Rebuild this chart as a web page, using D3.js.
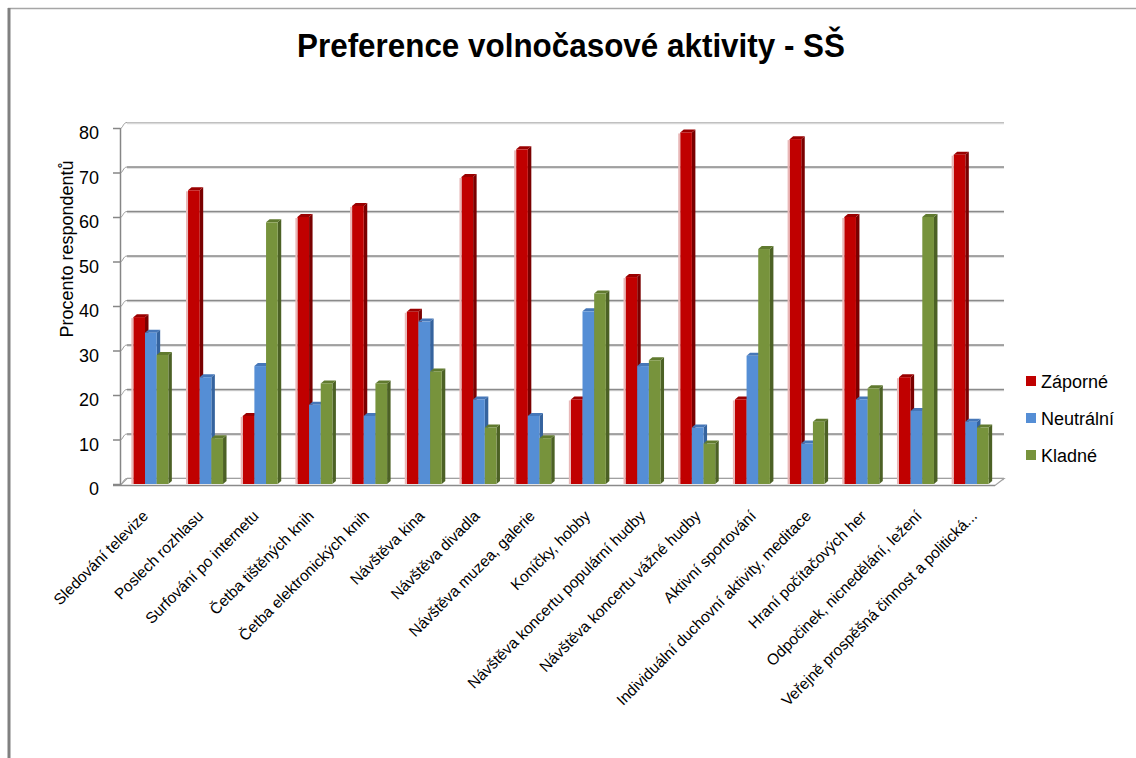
<!DOCTYPE html>
<html>
<head>
<meta charset="utf-8">
<script src="https://cdn.jsdelivr.net/npm/d3@7"></script>
<style>
  html, body { margin: 0; padding: 0; background: #fff; }
  svg { display: block; font-family: "Liberation Sans", Arial, sans-serif; }
</style>
</head>
<body>
<svg id="chart" width="1136" height="758"></svg>
<script>
'use strict';

const categories = [
  "Sledování televize",
  "Poslech rozhlasu",
  "Surfování po internetu",
  "Četba tištěných knih",
  "Četba elektronických knih",
  "Návštěva kina",
  "Návštěva divadla",
  "Návštěva muzea, galerie",
  "Koníčky, hobby",
  "Návštěva koncertu populární hudby",
  "Návštěva koncertu vážné hudby",
  "Aktivní sportování",
  "Individuální duchovní aktivity, meditace",
  "Hraní počítačových her",
  "Odpočinek, nicnedělání, ležení",
  "Veřejně prospěšná činnost a politická..."
];

const seriesNames = ["Záporné", "Neutrální", "Kladné"];

const zaporne   = [37.5, 66, 15.3, 60, 62.5, 38.7, 69, 75.2, 19, 46.5, 79, 19, 77.5, 60, 24, 74];
const neutralni = [34, 24, 26.5, 17.8, 15.3, 36.5, 19, 15.3, 38.8, 26.5, 12.7, 28.8, 9.1, 19, 16.4, 14];
const kladne    = [29, 10.3, 58.8, 22.6, 22.6, 25.3, 12.7, 10.3, 42.8, 27.8, 9.1, 52.8, 14, 21.5, 60, 12.7];

const yTicks = [0, 10, 20, 30, 40, 50, 60, 70, 80];

const colors = {
  "Záporné":   { front: "#c00000", side: "#7a0000", top: "#9a0000" },
  "Neutrální": { front: "#558ed5", side: "#35639e", top: "#4677b8" },
  "Kladné":    { front: "#77933c", side: "#4c6125", top: "#607a2f" }
};

const series = [zaporne, neutralni, kladne];

const svg = d3.select("#chart");

// frame
svg.append("line")
  .attr("x1", 8).attr("y1", 8.5).attr("x2", 1136).attr("y2", 8.5)
  .attr("stroke", "#a6a6a6").attr("stroke-width", 1.5);
svg.append("line")
  .attr("x1", 9).attr("y1", 8).attr("x2", 9).attr("y2", 758)
  .attr("stroke", "#808080").attr("stroke-width", 3);

// title
svg.append("text")
  .attr("x", 571).attr("y", 57)
  .attr("text-anchor", "middle")
  .attr("font-size", 33)
  .attr("font-weight", "bold")
  .attr("textLength", 548)
  .attr("lengthAdjust", "spacingAndGlyphs")
  .text("Preference volnočasové aktivity - SŠ");

const y = d3.scaleLinear().domain([0, 80]).range([484, 128]);
const x0 = d3.scaleBand().domain(categories).range([123.5, 998.5]).paddingInner(0.36).paddingOuter(0.18);
const x1 = d3.scaleBand().domain(seriesNames).range([0, x0.bandwidth()]);
const xLabel = d3.scalePoint().domain(categories).range([149, 978]);

const dx = 7, dy = 6;   // depth of the back wall
const bx = 3.5, by = 3; // depth of a bar

// back wall gridlines
const grid = svg.append("g");
yTicks.forEach(t => {
  const yy = y(t) + 0.5;
  grid.append("line")
    .attr("x1", 120 + dx).attr("x2", 1004)
    .attr("y1", yy - dy + 1).attr("y2", yy - dy + 1)
    .attr("stroke", "#d9d9d9").attr("stroke-width", 1.5);
  grid.append("line")
    .attr("x1", 120 + dx).attr("x2", 1004)
    .attr("y1", yy - dy).attr("y2", yy - dy)
    .attr("stroke", t === 80 ? "#c0c0c0" : "#8a8a8a").attr("stroke-width", t === 80 ? 1.2 : 1.6);
  grid.append("path")
    .attr("d", `M120,${yy} C123,${yy} 123,${yy - dy} ${120 + dx},${yy - dy}`)
    .attr("fill", "none").attr("stroke", "#9a9a9a").attr("stroke-width", 1);
});

// floor
svg.append("path")
  .attr("d", `M120,485.5 L995,485.5 L1004,${478.5} L127,478.5 Z`)
  .attr("fill", "#fff").attr("stroke", "#a0a0a0").attr("stroke-width", 1.2);
svg.append("line")
  .attr("x1", 113).attr("x2", 995).attr("y1", 485.5).attr("y2", 485.5)
  .attr("stroke", "#8a8a8a").attr("stroke-width", 1.5);

// y axis
const axis = svg.append("g");
axis.append("line")
  .attr("x1", 120.5).attr("x2", 120.5).attr("y1", y(80)).attr("y2", 486)
  .attr("stroke", "#868686").attr("stroke-width", 1.5);
axis.selectAll("line.tick")
  .data(yTicks)
  .enter()
  .append("line")
  .attr("class", "tick")
  .attr("x1", 113).attr("x2", 120)
  .attr("y1", d => y(d) + 0.5).attr("y2", d => y(d) + 0.5)
  .attr("stroke", "#868686").attr("stroke-width", 1.5);
axis.selectAll("text")
  .data(yTicks)
  .enter()
  .append("text")
  .attr("x", 99).attr("y", d => y(d) + 11)
  .attr("text-anchor", "end")
  .attr("font-size", 19)
  .attr("textLength", d => String(d).length > 1 ? 20 : 10)
  .attr("lengthAdjust", "spacingAndGlyphs")
  .text(d => d);

svg.append("text")
  .attr("transform", "translate(73,249) rotate(-90)")
  .attr("text-anchor", "middle")
  .attr("font-size", 18)
  .attr("textLength", 177)
  .attr("lengthAdjust", "spacingAndGlyphs")
  .text("Procento respondentů");

// bars
const rows = [];
categories.forEach((c, i) => {
  seriesNames.forEach((s, j) => {
    rows.push({ cat: c, name: s, value: series[j][i] });
  });
});

const bars = svg.append("g")
  .selectAll("g")
  .data(rows)
  .enter()
  .append("g");

bars.each(function(d) {
  const g = d3.select(this);
  const left = x0(d.cat) + x1(d.name);
  const w = x1.bandwidth();
  const top = y(d.value);
  const base = y(0);
  const col = colors[d.name];

  g.append("path")
    .attr("d", `M${left + w},${top} L${left + w + bx},${top - by} L${left + w + bx},${base - by} L${left + w},${base} Z`)
    .attr("fill", col.side);
  g.append("path")
    .attr("d", `M${left},${top} L${left + bx},${top - by} L${left + w + bx},${top - by} L${left + w},${top} Z`)
    .attr("fill", col.top);
  g.append("rect")
    .attr("x", left).attr("y", top)
    .attr("width", w).attr("height", base - top)
    .attr("fill", col.front);
  if(d.name === "Záporné") {
    g.append("rect")
      .attr("x", left - 2).attr("y", top + 1)
      .attr("width", 2).attr("height", base - top - 1)
      .attr("fill", "#e9b8b8");
  }
});

// category labels
svg.append("g")
  .selectAll("text")
  .data(categories)
  .enter()
  .append("text")
  .attr("transform", d => `translate(${xLabel(d)},${517}) rotate(-45)`)
  .attr("text-anchor", "end")
  .attr("font-size", 15.5)
  .text(d => d);

// legend
const legend = svg.append("g")
  .selectAll("g")
  .data(seriesNames)
  .enter()
  .append("g")
  .attr("transform", (d, i) => `translate(1026,${381 + i * 37})`);

legend.append("rect")
  .attr("x", 0).attr("y", -5)
  .attr("width", 10).attr("height", 10)
  .attr("fill", d => colors[d].front);

legend.append("text")
  .attr("x", 15).attr("y", 7)
  .attr("font-size", 18)
  .text(d => d);
</script>
</body>
</html>
